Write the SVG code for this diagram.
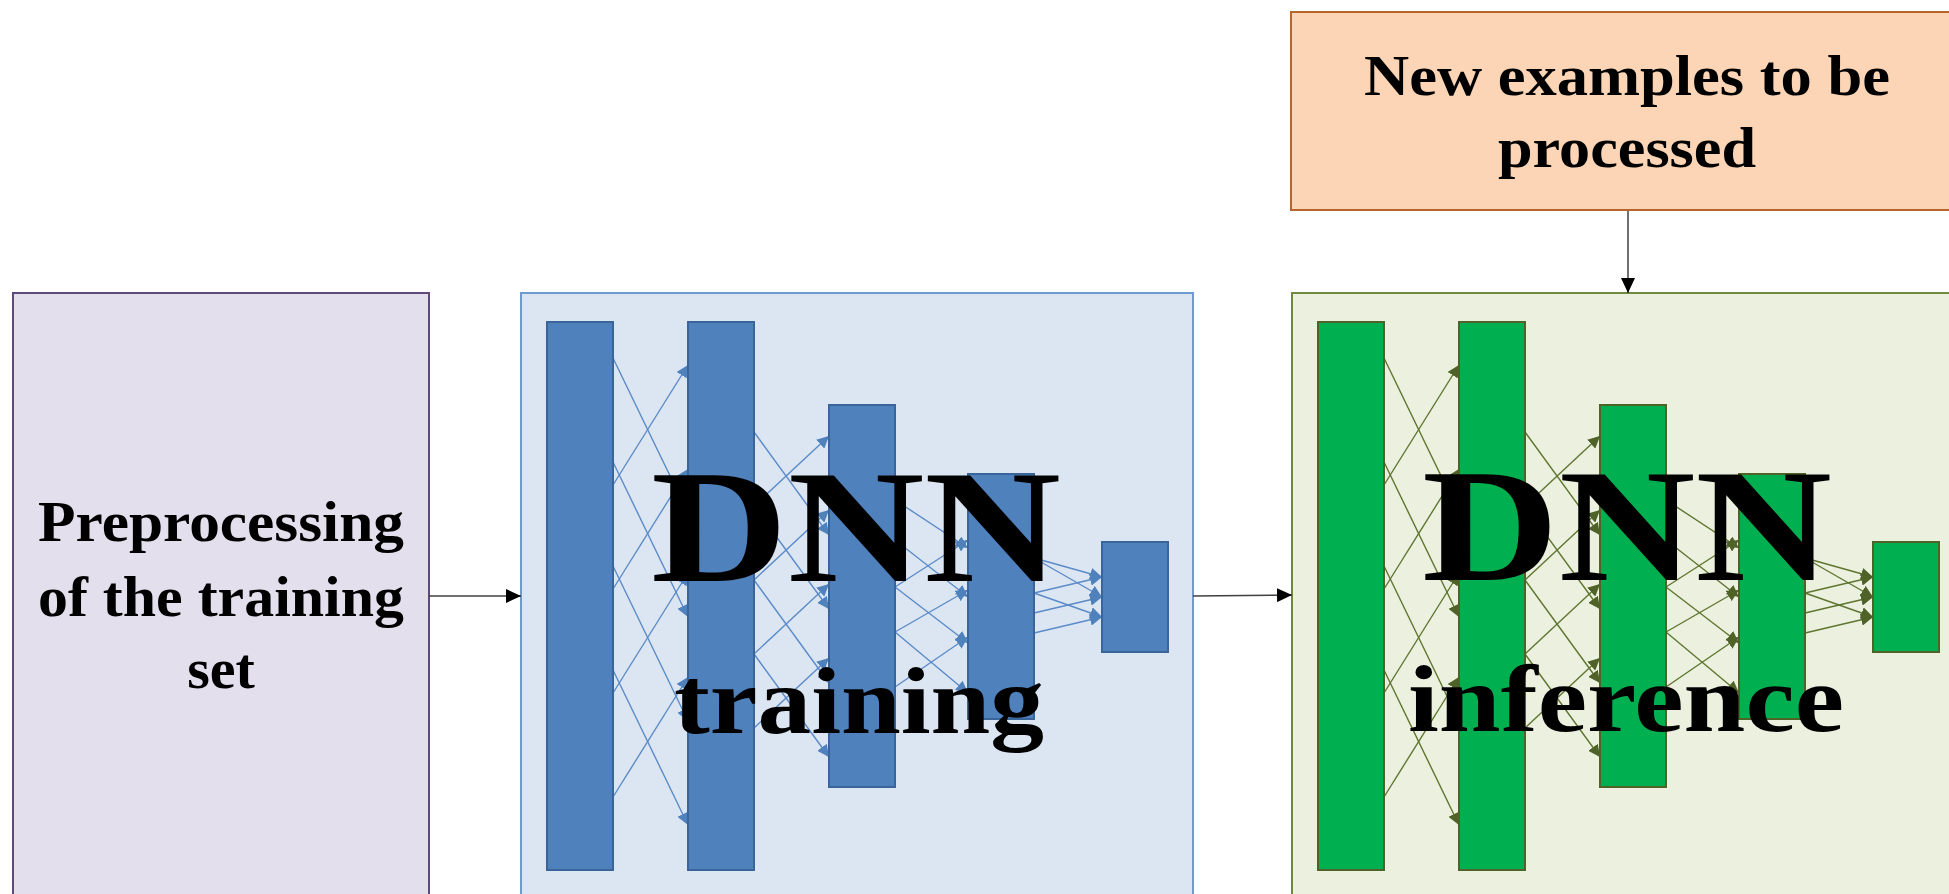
<svg xmlns="http://www.w3.org/2000/svg" width="1949" height="894" viewBox="0 0 1949 894">
<style>
.lbl{font-family:"Liberation Serif","Times New Roman",serif;font-weight:bold;fill:#000;text-anchor:middle}
.small{font-size:58px}
.big{font-size:162px}
.mid{font-size:96px}
.conn{stroke:#404040;stroke-width:1.5;fill:none}
.bl{fill:#4F81BD;stroke:#3A659A;stroke-width:2}
.gl{fill:#00B050;stroke:#4F6228;stroke-width:2}
.bw line{stroke:#5B8BC8;stroke-width:1.4}
.gw line{stroke:#5F7530;stroke-width:1.4}
</style>
<defs>
<marker id="ak" markerUnits="userSpaceOnUse" markerWidth="16" markerHeight="14" refX="15" refY="7" orient="auto"><path d="M0,0 L15,7 L0,14 Z" fill="#000"/></marker>
<marker id="ab" markerUnits="userSpaceOnUse" markerWidth="13" markerHeight="12" refX="12" refY="6" orient="auto"><path d="M0,0 L12,6 L0,12 Z" fill="#4F81BD"/></marker>
<marker id="ag" markerUnits="userSpaceOnUse" markerWidth="13" markerHeight="12" refX="12" refY="6" orient="auto"><path d="M0,0 L12,6 L0,12 Z" fill="#4F6228"/></marker>
</defs>
<rect width="1949" height="894" fill="#fff"/>

<g id="preprocessing">
<rect x="13" y="293" width="416" height="620" fill="#E4DFEC" stroke="#604A7B" stroke-width="2"/>
<text class="lbl small" x="221" y="541" textLength="366" lengthAdjust="spacingAndGlyphs">Preprocessing</text>
<text class="lbl small" x="221" y="616" textLength="366" lengthAdjust="spacingAndGlyphs">of the training</text>
<text class="lbl small" x="221" y="688">set</text>
</g>

<g id="new-examples">
<rect x="1291" y="12" width="680" height="198" fill="#FBD5B5" stroke="#B5652E" stroke-width="2"/>
<text class="lbl small" x="1627" y="95" textLength="526" lengthAdjust="spacingAndGlyphs">New examples to be</text>
<text class="lbl small" x="1627" y="167" textLength="258" lengthAdjust="spacingAndGlyphs">processed</text>
</g>

<g id="dnn-training">
<rect x="521" y="293" width="672" height="620" fill="#DCE6F2" stroke="#6C9BD2" stroke-width="2"/>
<g class="bw" marker-end="url(#ab)">
<line x1="613" y1="358" x2="688" y2="513" marker-end="url(#ab)"/>
<line x1="613" y1="462" x2="688" y2="617" marker-end="url(#ab)"/>
<line x1="613" y1="566" x2="688" y2="721" marker-end="url(#ab)"/>
<line x1="613" y1="670" x2="688" y2="825" marker-end="url(#ab)"/>
<line x1="613" y1="485" x2="688" y2="365" marker-end="url(#ab)"/>
<line x1="613" y1="589" x2="688" y2="469" marker-end="url(#ab)"/>
<line x1="613" y1="693" x2="688" y2="573" marker-end="url(#ab)"/>
<line x1="613" y1="797" x2="688" y2="677" marker-end="url(#ab)"/>
<line x1="754" y1="432" x2="829" y2="535" marker-end="url(#ab)"/>
<line x1="754" y1="506" x2="829" y2="609" marker-end="url(#ab)"/>
<line x1="754" y1="580" x2="829" y2="683" marker-end="url(#ab)"/>
<line x1="754" y1="654" x2="829" y2="757" marker-end="url(#ab)"/>
<line x1="754" y1="506" x2="829" y2="436" marker-end="url(#ab)"/>
<line x1="754" y1="580" x2="829" y2="510" marker-end="url(#ab)"/>
<line x1="754" y1="654" x2="829" y2="584" marker-end="url(#ab)"/>
<line x1="754" y1="728" x2="829" y2="658" marker-end="url(#ab)"/>
<line x1="895" y1="500" x2="968" y2="548" marker-end="url(#ab)"/>
<line x1="895" y1="540" x2="968" y2="597" marker-end="url(#ab)"/>
<line x1="895" y1="587" x2="968" y2="643" marker-end="url(#ab)"/>
<line x1="895" y1="632" x2="968" y2="693" marker-end="url(#ab)"/>
<line x1="895" y1="587" x2="968" y2="540" marker-end="url(#ab)"/>
<line x1="895" y1="632" x2="968" y2="590" marker-end="url(#ab)"/>
<line x1="895" y1="687" x2="968" y2="637" marker-end="url(#ab)"/>
<line x1="1034" y1="558" x2="1102" y2="577" marker-end="url(#ab)"/>
<line x1="1034" y1="558" x2="1102" y2="597" marker-end="url(#ab)"/>
<line x1="1034" y1="593" x2="1102" y2="577" marker-end="url(#ab)"/>
<line x1="1034" y1="593" x2="1102" y2="617" marker-end="url(#ab)"/>
<line x1="1034" y1="613" x2="1102" y2="597" marker-end="url(#ab)"/>
<line x1="1034" y1="633" x2="1102" y2="617" marker-end="url(#ab)"/>
</g>
<rect class="bl" x="547" y="322" width="66" height="548"/>
<rect class="bl" x="688" y="322" width="66" height="548"/>
<rect class="bl" x="829" y="405" width="66" height="382"/>
<rect class="bl" x="968" y="474" width="66" height="245"/>
<rect class="bl" x="1102" y="542" width="66" height="110"/>
<text class="lbl big" x="856" y="581" textLength="410" lengthAdjust="spacingAndGlyphs">DNN</text>
<text class="lbl mid" x="859" y="733" textLength="370" lengthAdjust="spacingAndGlyphs">training</text>
</g>

<g id="dnn-inference">
<rect x="1292" y="293" width="680" height="620" fill="#EBF1DE" stroke="#71893F" stroke-width="2"/>
<g class="gw" transform="translate(771,0)">
<line x1="613" y1="358" x2="688" y2="513" marker-end="url(#ag)"/>
<line x1="613" y1="462" x2="688" y2="617" marker-end="url(#ag)"/>
<line x1="613" y1="566" x2="688" y2="721" marker-end="url(#ag)"/>
<line x1="613" y1="670" x2="688" y2="825" marker-end="url(#ag)"/>
<line x1="613" y1="485" x2="688" y2="365" marker-end="url(#ag)"/>
<line x1="613" y1="589" x2="688" y2="469" marker-end="url(#ag)"/>
<line x1="613" y1="693" x2="688" y2="573" marker-end="url(#ag)"/>
<line x1="613" y1="797" x2="688" y2="677" marker-end="url(#ag)"/>
<line x1="754" y1="432" x2="829" y2="535" marker-end="url(#ag)"/>
<line x1="754" y1="506" x2="829" y2="609" marker-end="url(#ag)"/>
<line x1="754" y1="580" x2="829" y2="683" marker-end="url(#ag)"/>
<line x1="754" y1="654" x2="829" y2="757" marker-end="url(#ag)"/>
<line x1="754" y1="506" x2="829" y2="436" marker-end="url(#ag)"/>
<line x1="754" y1="580" x2="829" y2="510" marker-end="url(#ag)"/>
<line x1="754" y1="654" x2="829" y2="584" marker-end="url(#ag)"/>
<line x1="754" y1="728" x2="829" y2="658" marker-end="url(#ag)"/>
<line x1="895" y1="500" x2="968" y2="548" marker-end="url(#ag)"/>
<line x1="895" y1="540" x2="968" y2="597" marker-end="url(#ag)"/>
<line x1="895" y1="587" x2="968" y2="643" marker-end="url(#ag)"/>
<line x1="895" y1="632" x2="968" y2="693" marker-end="url(#ag)"/>
<line x1="895" y1="587" x2="968" y2="540" marker-end="url(#ag)"/>
<line x1="895" y1="632" x2="968" y2="590" marker-end="url(#ag)"/>
<line x1="895" y1="687" x2="968" y2="637" marker-end="url(#ag)"/>
<line x1="1034" y1="558" x2="1102" y2="577" marker-end="url(#ag)"/>
<line x1="1034" y1="558" x2="1102" y2="597" marker-end="url(#ag)"/>
<line x1="1034" y1="593" x2="1102" y2="577" marker-end="url(#ag)"/>
<line x1="1034" y1="593" x2="1102" y2="617" marker-end="url(#ag)"/>
<line x1="1034" y1="613" x2="1102" y2="597" marker-end="url(#ag)"/>
<line x1="1034" y1="633" x2="1102" y2="617" marker-end="url(#ag)"/>
</g>
<g transform="translate(771,0)">
<rect class="gl" x="547" y="322" width="66" height="548"/>
<rect class="gl" x="688" y="322" width="66" height="548"/>
<rect class="gl" x="829" y="405" width="66" height="382"/>
<rect class="gl" x="968" y="474" width="66" height="245"/>
<rect class="gl" x="1102" y="542" width="66" height="110"/>
</g>
<text class="lbl big" x="1627" y="580" textLength="410" lengthAdjust="spacingAndGlyphs">DNN</text>
<text class="lbl mid" x="1626" y="731" textLength="436" lengthAdjust="spacingAndGlyphs">inference</text>
</g>

<g id="connectors">
<line class="conn" x1="429" y1="596" x2="521" y2="596" marker-end="url(#ak)"/>
<line class="conn" x1="1193" y1="596" x2="1292" y2="595" marker-end="url(#ak)"/>
<line class="conn" x1="1628" y1="211" x2="1628" y2="293" marker-end="url(#ak)"/>
</g>
</svg>
